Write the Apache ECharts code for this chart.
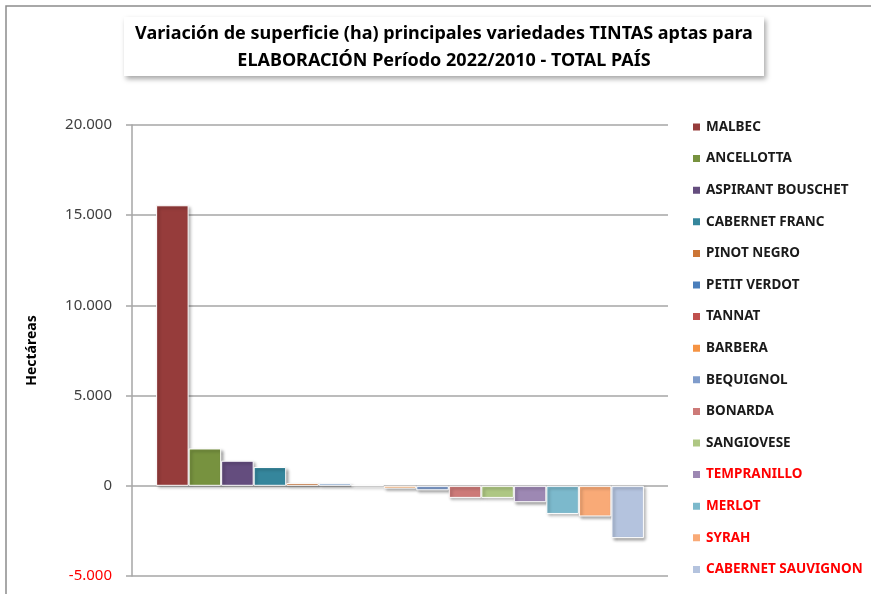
<!DOCTYPE html>
<html>
<head>
<meta charset="utf-8">
<title>Variación de superficie</title>
<script src="https://cdn.jsdelivr.net/npm/echarts@6/dist/echarts.min.js"></script>
<style>
html, body { margin: 0; padding: 0; background: #fff; }
#main { width: 871px; height: 594px; }
</style>
</head>
<body>
<div id="main"></div>
<script>
// variedades y variación (ha) 2022/2010
var variedades = ['MALBEC', 'ANCELLOTTA', 'ASPIRANT BOUSCHET', 'CABERNET FRANC', 'PINOT NEGRO',
  'PETIT VERDOT', 'TANNAT', 'BARBERA', 'BEQUIGNOL', 'BONARDA', 'SANGIOVESE',
  'TEMPRANILLO', 'MERLOT', 'SYRAH', 'CABERNET SAUVIGNON'];
var variacion = [15550, 2070, 1390, 1040, 150, 130, 10, -150, -250, -670, -670, -910, -1560, -1700, -2900];
var colores = ['#963C3B', '#77923F', '#644D7E', '#35869C', '#CB7536', '#4A7EBB', '#C0504D', '#F59343',
  '#7F9CCB', '#CD7A78', '#AEC783', '#9D88B3', '#7CB9CC', '#F9AA77', '#B4C3DE'];
var enRojo = ['TEMPRANILLO', 'MERLOT', 'SYRAH', 'CABERNET SAUVIGNON'];
var yTicks = [-5000, 0, 5000, 10000, 15000, 20000];

var font = 'Noto Sans';

function fmt(v) {
  var s = String(Math.abs(v)).replace(/\B(?=(\d{3})+(?!\d))/g, '.');
  return (v < 0 ? '-' : '') + s;
}

var series = variedades.map(function (n, i) {
  return {
    name: n,
    type: 'bar',
    data: [variacion[i]],
    barGap: 0,
    barCategoryGap: '9%',
    itemStyle: {
      color: colores[i],
      borderColor: '#fff',
      borderWidth: 1,
      shadowColor: 'rgba(0,0,0,0.35)',
      shadowBlur: 3,
      shadowOffsetX: 2,
      shadowOffsetY: 2
    }
  };
});

var myChart = echarts.init(document.getElementById('main'));
var option = {
  animation: false,
  backgroundColor: '#fff',
  graphic: [
    {
      type: 'rect',
      shape: { x: 6, y: 6, width: 900, height: 620 },
      style: { fill: 'none', stroke: '#8c8c8c', lineWidth: 1.5 }
    },
    {
      type: 'rect',
      shape: { x: 124, y: 17, width: 640, height: 59 },
      style: { fill: '#fff', shadowColor: 'rgba(0,0,0,0.35)', shadowBlur: 5, shadowOffsetX: 2, shadowOffsetY: 3 }
    },
    {
      type: 'text',
      x: 444, y: 47,
      style: {
        text: 'Variación de superficie (ha) principales variedades TINTAS aptas para\nELABORACIÓN Período 2022/2010 - TOTAL PAÍS',
        align: 'center', verticalAlign: 'middle',
        font: 'bold 18px "' + font + '"', lineHeight: 27, fill: '#000'
      }
    }
  ],
  grid: { left: 132, right: 203, top: 125, bottom: 18 },
  legend: {
    orient: 'vertical',
    left: 686,
    top: 114,
    itemWidth: 9,
    itemHeight: 9,
    itemGap: 15.6,
    icon: 'rect',
    textStyle: { fontFamily: font, fontWeight: 'bold', fontSize: 13.5, lineHeight: 16, color: '#1a1a1a' },
    data: variedades.map(function (n) {
      return enRojo.indexOf(n) >= 0 ? { name: n, textStyle: { color: '#ff0000' } } : { name: n };
    })
  },
  xAxis: {
    type: 'category',
    data: [''],
    axisLine: { show: false },
    axisTick: { show: false },
    axisLabel: { show: false }
  },
  yAxis: {
    type: 'value',
    min: yTicks[0],
    max: yTicks[yTicks.length - 1],
    interval: 5000,
    name: 'Hectáreas',
    nameLocation: 'middle',
    nameGap: 93,
    nameTextStyle: { fontFamily: font, fontWeight: 'bold', fontSize: 14, color: '#000' },
    axisLine: { show: true, lineStyle: { color: '#a6a6a6', width: 1.5 } },
    axisTick: { show: true, length: 6, lineStyle: { color: '#a6a6a6', width: 1.5 } },
    axisLabel: {
      margin: 20,
      fontFamily: font,
      fontSize: 15,
      color: function (v) { return Number(v) < 0 ? '#ff0000' : '#404040'; },
      formatter: function (v) { return fmt(v); }
    },
    splitLine: { lineStyle: { color: '#a6a6a6', width: 1.5 } }
  },
  series: series
};
myChart.setOption(option);
</script>
</body>
</html>
